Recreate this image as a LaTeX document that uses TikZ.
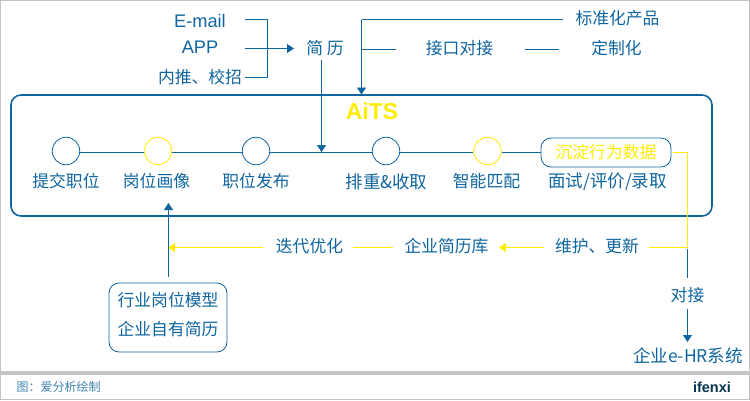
\documentclass[tikz,border=0pt]{standalone}
\usepackage{fontspec}
\setmainfont{Noto Sans CJK SC}
\newfontfamily\latinfont{Liberation Sans}
\usetikzlibrary{arrows.meta}
\definecolor{myblue}{HTML}{0F659F}
\definecolor{myyellow}{HTML}{FFED00}
\definecolor{mygray}{HTML}{C4C4C4}
\tikzset{
  label/.style={text=myblue,font=\fontsize{16.8}{18}\selectfont,inner sep=0pt},
  wide/.style={text=myblue,font=\fontsize{17.5}{19}\selectfont,inner sep=0pt},
  latin/.style={text=myblue,font=\latinfont\fontsize{18.2}{20}\selectfont,inner sep=0pt},
  small/.style={text=myblue!80,font=\fontsize{12}{13}\selectfont,inner sep=0pt},
  ring/.style={circle,draw=myblue,line width=0.8pt,minimum size=27.5pt,inner sep=0pt},
  yring/.style={ring,draw=myyellow},
  link/.style={draw=myblue,line width=0.9pt},
  ylink/.style={draw=myyellow,line width=1.1pt},
  tip/.style={-{Triangle[length=7pt,width=9pt]}},
}
\begin{document}
\begin{tikzpicture}[x=1pt,y=-1pt]
\useasboundingbox (0,0) rectangle (750,400);
% outer frame and footer
\draw[mygray,line width=1.5pt] (0.7,0.7) rectangle (749.3,399.3);
\fill[mygray] (0,371) rectangle (750,375);
\node[small] (source) at (58.5,387) {图：爱分析绘制};
\node[text=myblue!50!black,font=\latinfont\bfseries\fontsize{14.5}{16}\selectfont,inner sep=0pt] (logo) at (712,387.5) {ifenxi};
% main panel
\node[draw=myblue,line width=1.6pt,rounded corners=10pt,minimum width=701pt,minimum height=121pt,inner sep=0pt] (panel) at (361.5,155.5) {};
\node[text=myyellow,font=\latinfont\bfseries\fontsize{23}{25}\selectfont,inner sep=0pt] (aits) at (372,111) {AiTS};
% sources
\node[latin] (email) at (200,21) {E-mail};
\node[latin] (app) at (200,47.5) {APP};
\node[label] (neitui) at (200,77) {内推、校招};
\node[label] (resume) at (325,48) {简 历};
\node[label] (biaozhun) at (617.5,18) {标准化产品};
\node[label] (jiekou) at (459.5,48) {接口对接};
\node[label] (dingzhi) at (616.5,48) {定制化};
% process row
\node[ring] (c1) at (66,151) {};
\node[yring] (c2) at (158,151) {};
\node[ring] (c3) at (256,151) {};
\node[ring] (c4) at (386,151) {};
\node[yring] (c5) at (487.5,151) {};
\node[label,text=myyellow,draw=myblue,line width=0.8pt,rounded corners=10pt,minimum width=130pt,minimum height=29pt] (chendian) at (606,152.5) {沉淀行为数据};
\node[label] (l1) at (66,181.5) {提交职位};
\node[label] (l2) at (156.5,181.5) {岗位画像};
\node[label] (l3) at (256,181.5) {职位发布};
\node[wide] (l4) at (386.5,181.5) {排重\&收取};
\node[label] (l5) at (486.5,181.5) {智能匹配};
\node[wide] (l6) at (607.5,181.5) {面试/评价/录取};
% lower row
\node[label] (weihu) at (597,246.5) {维护、更新};
\node[label] (ku) at (446.5,246.5) {企业简历库};
\node[label] (diedai) at (309.5,246.5) {迭代优化};
\node[draw=myblue,line width=0.8pt,rounded corners=10pt,minimum width=118pt,minimum height=69pt,inner sep=0pt] (model) at (168,317.5) {};
\node[label] (m1) at (168,300) {行业岗位模型};
\node[label] (m2) at (168,329.5) {企业自有简历};
\node[label] (duijie) at (687.5,295) {对接};
\node[wide] (ehr) at (688,356) {企业e-HR系统};
% free ends
\coordinate (e1) at (245,19.5);
\coordinate (e2) at (245,77.5);
\coordinate (e3) at (245,48.5);
\coordinate (e4) at (294,48.5);
\coordinate (j1) at (267.5,19.5);
\coordinate (j2) at (267.5,77.5);
\coordinate (s1) at (321.5,60);
\coordinate (j5) at (321.5,152);
\coordinate (b1) at (563,19.5);
\coordinate (j3) at (361.5,19.5);
\coordinate (j4) at (361.5,49.5);
\coordinate (j9) at (361.5,94.5);
\coordinate (b2) at (396,49.5);
\coordinate (d1) at (525,49.5);
\coordinate (d2) at (559,49.5);
\coordinate (y0) at (673,152.5);
\coordinate (j6) at (687.5,152.5);
\coordinate (j7) at (687.5,247.5);
\coordinate (y1) at (649,247.5);
\coordinate (y2) at (544,247.5);
\coordinate (y3) at (499,247.5);
\coordinate (y4) at (393,247.5);
\coordinate (y5) at (353,247.5);
\coordinate (y6) at (263,247.5);
\coordinate (j8) at (168,247.5);
\coordinate (m0) at (168.5,277);
\coordinate (m3) at (168.5,203);
\coordinate (h1) at (687.5,249);
\coordinate (h2) at (687.5,278);
\coordinate (h3) at (687.5,309);
\coordinate (h4) at (687.5,342);
% connectors
\draw[link] (e1) -- (j1) -- (j2) -- (e2);
\draw[link,tip] (e3) -- (e4);
\draw[link,tip] (s1) -- (j5);
\draw[link] (b1) -- (j3);
\draw[link,tip] (j3) -- (j9);
\draw[link] (j4) -- (b2);
\draw[link] (d1) -- (d2);
\draw[link] ([yshift=-1.5pt]c1.east) -- ([yshift=-1.5pt]c2.west);
\draw[link] ([yshift=-1.5pt]c2.east) -- ([yshift=-1.5pt]c3.west);
\draw[link] ([yshift=-1.5pt]c3.east) -- ([yshift=-1.5pt]c4.west);
\draw[link] ([yshift=-1.5pt]c4.east) -- ([yshift=-1.5pt]c5.west);
\draw[link] ([yshift=-1.5pt]c5.east) -- (chendian.west);
\draw[ylink] (y0) -- (j6) -- (j7) -- (y1);
\draw[ylink,tip] (y2) -- (y3);
\draw[ylink] (y4) -- (y5);
\draw[ylink,tip] (y6) -- (j8);
\draw[link,tip] (m0) -- (m3);
\draw[link] (h1) -- (h2);
\draw[link,tip] (h3) -- (h4);
\end{tikzpicture}
\end{document}
